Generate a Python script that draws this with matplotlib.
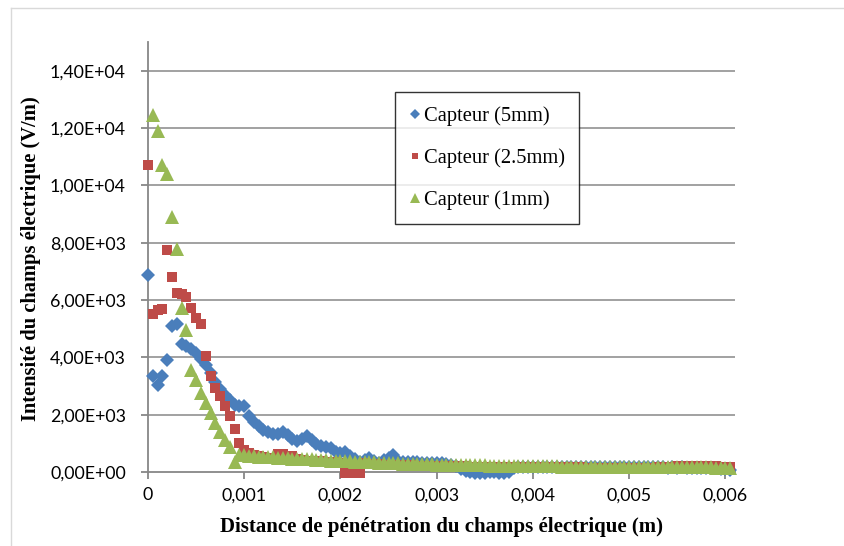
import numpy as np
import matplotlib
matplotlib.use("Agg")
import matplotlib.pyplot as plt

# ---------------- data ----------------
step = 0.00005
x = np.arange(122) * step  # sample positions 0 ... 0.00605 m

blue_5mm = [6860, 3340, 3050, 3340, 3920, 5110, 5150, 4450, 4400, 4300,
            4150, 3950, 3750, 3450, 3150, 2900, 2700, 2500, 2350, 2300,
            2300, 1950, 1750, 1600, 1480, 1380, 1320, 1320, 1400, 1300,
            1150, 1080, 1150, 1250, 1100, 980, 920, 880, 820, 700,
            650, 710, 560, 450, 360, 420, 490, 400, 310, 420,
            480, 600, 385, 360, 350, 350, 340, 330, 320, 310,
            320, 300, 280, 250, 200, 120, 40, 0, -20, -30,
            -20, 0, -10, -30, -20, 10, 150, 170, 180, 190,
            190, 185, 180, 190, 185, 180, 175, 185, 180, 175,
            180, 175, 170, 180, 175, 170, 175, 170, 165, 170,
            165, 170, 165, 160, 165, 160, 165, 160, 155, 160,
            155, 160, 155, 150, 155, 150, 145, 150, 140, 120,
            100, 70]

red_2_5mm = [10700, 5500, 5650, 5690, 7750, 6800, 6230, 6200, 6110, 5720,
             5380, 5150, 4040, 3340, 2930, 2640, 2290, 1940, 1490, 1000,
             770, 650, 600, 550, 520, 500, 480, 640, 640, 560,
             560, 450, 420, 400, 390, 380, 370, 360, 350, 340,
             330, -30, -40, -50, -40, 300, 290, 280, 270, 260,
             255, 250, 245, 240, 235, 230, 225, 220, 215, 210,
             210, 205, 205, 200, 200, 195, 195, 190, 190, 185,
             185, 185, 180, 180, 180, 175, 175, 175, 170, 170,
             170, 170, 165, 165, 165, 165, 160, 160, 160, 160,
             160, 155, 155, 155, 155, 155, 150, 150, 150, 150,
             150, 150, 150, 150, 150, 150, 160, 170, 180, 190,
             200, 200, 210, 210, 210, 205, 200, 200, 195, 190,
             185, 180]

green_1mm = [np.nan, 12440, 11910, 10710, 10400, 8880, 7770, 5730, 4970, 3570,
             3220, 2760, 2410, 2060, 1710, 1400, 1120, 875, 360, 600,
             580, 565, 550, 540, 530, 520, 510, 500, 490, 480,
             470, 460, 450, 445, 440, 430, 420, 410, 400, 395,
             390, 380, 370, 365, 360, 350, 340, 335, 330, 320,
             310, 305, 300, 295, 290, 285, 280, 275, 270, 265,
             260, 255, 250, 248, 245, 240, 238, 235, 232, 230,
             228, 225, 222, 220, 218, 215, 212, 210, 208, 205,
             203, 200, 198, 196, 194, 192, 190, 188, 186, 185,
             184, 183, 182, 181, 180, 179, 178, 177, 176, 175,
             174, 173, 172, 171, 170, 169, 168, 167, 166, 165,
             164, 163, 162, 161, 160, 159, 158, 157, 156, 155,
             154, 153]

series_labels = ["Capteur (5mm)", "Capteur (2.5mm)", "Capteur (1mm)"]
x_ticks = [0, 0.001, 0.002, 0.003, 0.004, 0.005, 0.006]
x_tick_labels = ["0", "0,001", "0,002", "0,003", "0,004", "0,005", "0,006"]
y_ticks = [0, 2000, 4000, 6000, 8000, 10000, 12000, 14000]
y_tick_labels = ["0,00E+00", "2,00E+03", "4,00E+03", "6,00E+03", "8,00E+03",
                 "1,00E+04", "1,20E+04", "1,40E+04"]
x_title = "Distance de pénétration du champs électrique (m)"
y_title = "Intensité du champs électrique (V/m)"

# ---------------- figure ----------------
W, H = 844, 546
fig = plt.figure(figsize=(W / 100, H / 100), dpi=100)
fig.patch.set_facecolor("white")

# outer light border (left and top edges of the chart area)
fig.add_artist(plt.Line2D([11 / W, 11 / W], [0, 1 - 8 / H], transform=fig.transFigure,
                          color="#d9d9d9", linewidth=1.0))
fig.add_artist(plt.Line2D([11 / W, 1], [1 - 8 / H, 1 - 8 / H], transform=fig.transFigure,
                          color="#d9d9d9", linewidth=1.0))

left, right, top, bottom = 148, 735, 42, 472
ax = fig.add_axes([left / W, 1 - bottom / H, (right - left) / W, (bottom - top) / H])
ax.set_xlim(0, 0.0061)
ax.set_ylim(0, 15000)
ax.patch.set_alpha(0)

grid_col = "#878787"
for yv in y_ticks[1:]:
    ax.axhline(yv, color=grid_col, linewidth=1.1, zorder=1)

for s in ["top", "right"]:
    ax.spines[s].set_visible(False)
for s in ["left", "bottom"]:
    ax.spines[s].set_color(grid_col)
    ax.spines[s].set_linewidth(1.3)

tick_font = dict(family="Lato", size=12.8)
ax.set_xticks(x_ticks)
ax.set_xticklabels(x_tick_labels, **tick_font)
ax.set_yticks(y_ticks)
ax.set_yticklabels(y_tick_labels, **tick_font)
ax.tick_params(axis="both", direction="out", length=5, width=1.3, color=grid_col)
ax.tick_params(axis="y", pad=11)
ax.tick_params(axis="x", pad=6)

kw = dict(linestyle="none", clip_on=False, zorder=3)
ax.plot(x, blue_5mm, marker="D", markersize=7.0, color="#4a7ebb",
        markeredgewidth=0, label=series_labels[0], **kw)
ax.plot(x, red_2_5mm, marker="s", markersize=6.6, color="#be4b48",
        markeredgewidth=0, label=series_labels[1], **kw)
ax.plot(x, green_1mm, marker="^", markersize=9.5, color="#98b954",
        markeredgewidth=0, label=series_labels[2], **kw)

leg = ax.legend(loc="upper left", bbox_to_anchor=((395 - left) / (right - left), (bottom - 92) / (bottom - top)),
                prop=dict(family="Liberation Serif", size=14.8),
                frameon=True, fancybox=False, shadow=False,
                borderpad=0.7, labelspacing=1.08, handlelength=0.5,
                handletextpad=0.2, borderaxespad=0, markerscale=0.75)
leg.get_frame().set_edgecolor("black")
leg.get_frame().set_linewidth(1.0)
leg.set_zorder(5)

fig.text(441 / W, 1 - 527 / H, x_title, ha="center", va="center",
         family="Liberation Serif", weight="bold", size=15)
fig.text(31 / W, 1 - 259 / H, y_title, ha="center", va="center", rotation=90,
         family="Liberation Serif", weight="bold", size=14.8)

fig.savefig("out.png", dpi=100)
